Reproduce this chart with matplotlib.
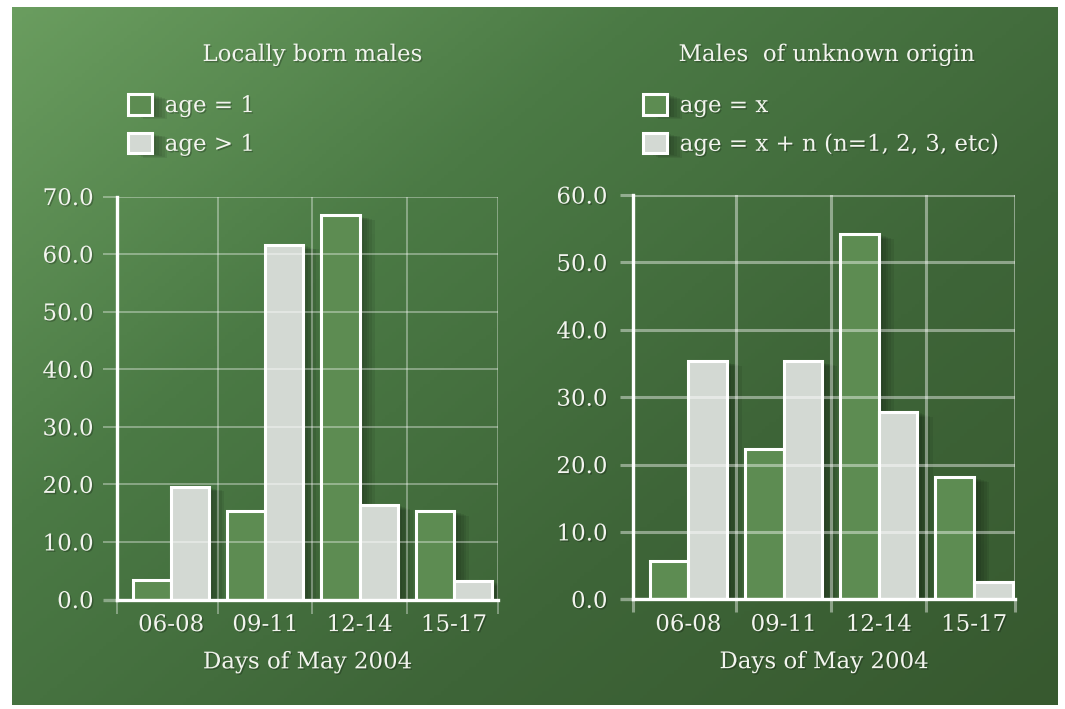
import numpy as np
import matplotlib
matplotlib.use("Agg")
import matplotlib.pyplot as plt
import matplotlib.patheffects as pe
from matplotlib.colors import LinearSegmentedColormap

# Datos
categorias = ["06-08", "09-11", "12-14", "15-17"]
local_edad1 = [3.4, 15.3, 66.7, 15.3]
local_mayor1 = [19.6, 61.6, 16.4, 3.2]
desconocido_x = [5.7, 22.3, 54.2, 18.1]
desconocido_xn = [35.3, 35.3, 27.8, 2.5]

VERDE = "#5d8c52"
GRIS = "#d3d9d3"
TEXTO = "#f2f4ee"
TAM = 16.5
plt.rcParams["font.family"] = ["DejaVu Serif"]

fig = plt.figure(figsize=(10.65, 7.09), dpi=100)
fig.patch.set_facecolor("white")

# Fondo con degradado verde
fondo = fig.add_axes([12 / 1065, 4 / 709, 1046 / 1065, 698 / 709], zorder=-10)
yy, xx = np.mgrid[0:1:200j, 0:1:300j]
t = 0.55 * xx + 0.45 * yy
cmap = LinearSegmentedColormap.from_list("fondo", ["#6a9d5f", "#4b7a45", "#3e6538", "#37592f"])
fondo.imshow(t, cmap=cmap, aspect="auto", extent=[0, 1, 0, 1])
fondo.axis("off")

# Sombra suave de las barras (varias capas desplazadas)
sombra = [pe.SimplePatchShadow(offset=(dx, -dx * 0.3), shadow_rgbFace="k", alpha=0.07)
          for dx in (11, 9, 7, 5, 3)] + [pe.Normal()]
sombra_txt = [pe.SimplePatchShadow(offset=(1, -1), shadow_rgbFace="k", alpha=0.25), pe.Normal()]


def panel(rect, xlim, ymax, serie1, serie2, etiquetas, titulo, titulo_x, grid_lw, grid_alpha,
          legend_xy, largo, pad):
    ax = fig.add_axes(rect)
    ax.patch.set_alpha(0)
    x = np.arange(len(categorias))
    w = 0.405
    b1 = ax.bar(x - w / 2, serie1, w, color=VERDE, edgecolor="white", linewidth=2.2,
                label=etiquetas[0], zorder=2)
    b2 = ax.bar(x + w / 2, serie2, w, color=GRIS, edgecolor="white", linewidth=2.2,
                label=etiquetas[1], zorder=2)
    for p in list(b1) + list(b2):
        p.set_path_effects(sombra)
    ax.set_xlim(*xlim)
    ax.set_ylim(0, ymax)
    ax.set_yticks(np.arange(0, ymax + 1, 10))
    ax.set_yticklabels([f"{v:.1f}" for v in np.arange(0, ymax + 1, 10)])
    ax.set_xticks(x)
    ax.set_xticklabels(categorias)
    ax.set_xticks([xlim[0], 0.5, 1.5, 2.5, xlim[1]], minor=True)
    ax.tick_params(axis="x", which="major", length=0, pad=10.5, labelsize=TAM, labelcolor=TEXTO)
    ax.tick_params(axis="x", which="minor", length=largo, width=grid_lw, color=(1, 1, 1, grid_alpha))
    ax.tick_params(axis="y", length=largo, width=grid_lw, color=(1, 1, 1, grid_alpha), pad=pad,
                   labelsize=TAM, labelcolor=TEXTO)
    t0 = ax.yaxis.get_major_ticks()[0]
    t0.tick1line.set_color("white")
    t0.tick1line.set_markeredgewidth(2.4)
    ax.grid(True, axis="y", color="white", alpha=grid_alpha, linewidth=grid_lw)
    ax.grid(True, axis="x", which="minor", color="white", alpha=grid_alpha, linewidth=grid_lw)
    ax.set_axisbelow(False)
    for s in ["top", "right"]:
        ax.spines[s].set_visible(False)
    for s in ["left", "bottom"]:
        ax.spines[s].set_color("white")
        ax.spines[s].set_linewidth(2.4)
        ax.spines[s].set_zorder(4)
    ax.set_xlabel("Days of May 2004", fontsize=TAM, color=TEXTO, labelpad=11)
    for lab in ax.get_xticklabels() + ax.get_yticklabels() + [ax.xaxis.label]:
        lab.set_path_effects(sombra_txt)
    fig.text(titulo_x, 1 - 55 / 709, titulo, ha="center", va="center", fontsize=TAM,
             color=TEXTO, path_effects=sombra_txt)
    leg = ax.legend(loc="upper left", bbox_to_anchor=legend_xy, bbox_transform=fig.transFigure,
                    frameon=False, fontsize=TAM, handlelength=1.05, handleheight=1.0,
                    handletextpad=0.55, labelspacing=0.68, borderpad=0, borderaxespad=0)
    for txt in leg.get_texts():
        txt.set_color(TEXTO)
        txt.set_path_effects(sombra_txt)
    return ax


panel([117 / 1065, 109.5 / 709, 381 / 1065, 403 / 709], (-0.573, 3.468), 70,
      local_edad1, local_mayor1, ["age = 1", "age > 1"], "Locally born males",
      312 / 1065, 1.3, 0.38, (128 / 1065, 1 - 94 / 709), 10, 7)
panel([633 / 1065, 109.7 / 709, 382 / 1065, 404.3 / 709], (-0.58, 3.43), 60,
      desconocido_x, desconocido_xn, ["age = x", "age = x + n (n=1, 2, 3, etc)"],
      "Males  of unknown origin", 826 / 1065, 2.2, 0.42, (643 / 1065, 1 - 94 / 709), 9.5, 9)

fig.savefig("out.png", dpi=100)
